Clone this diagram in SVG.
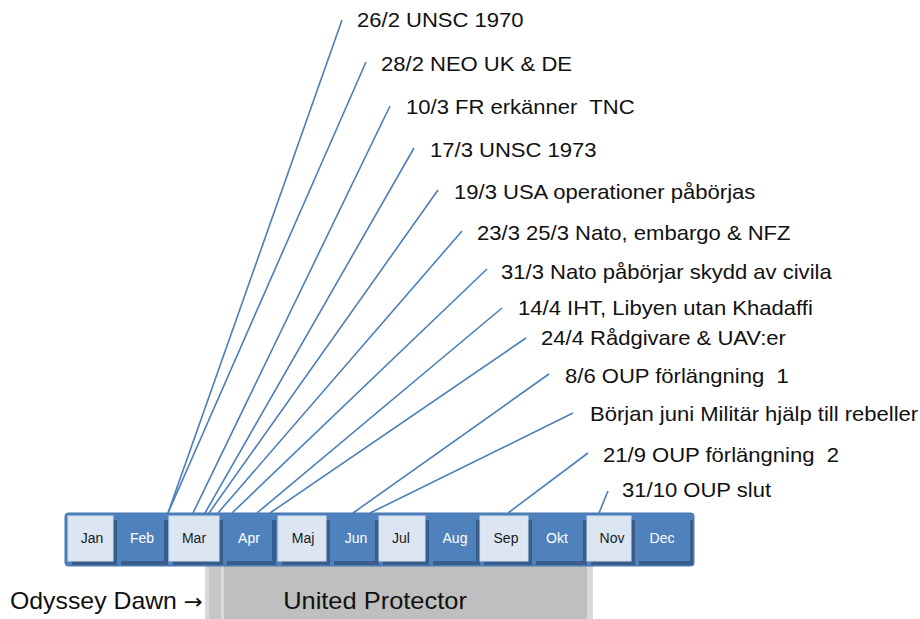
<svg xmlns="http://www.w3.org/2000/svg" width="920" height="619" viewBox="0 0 920 619">
<style>
.ev{font-family:"Liberation Sans",Arial,sans-serif;font-size:21px;fill:#111}
.mo{font-family:"Liberation Sans",Arial,sans-serif;font-size:14px;text-anchor:middle}
.mo.l{fill:#1a1a1a}
.mo.d{fill:#ffffff}
.big{font-family:"Liberation Sans",Arial,sans-serif;fill:#111}
.lc{fill:#dce6f2;stroke:#d0def0;stroke-width:1}
.dc{fill:#4f81bd}
.sh{fill:#385d8a}
.con line{stroke:#4a7ebb;stroke-width:1.6;fill:none}
</style>
<rect width="920" height="619" fill="#ffffff"/>

<g id="operations">
<rect x="205" y="565" width="388" height="54" fill="#d9d9d9"/>
<rect x="209" y="565" width="12" height="54" fill="#c6c6c6"/>
<rect x="224" y="565" width="363" height="54" fill="#bfbfbf"/>
<text class="big" font-size="24" text-anchor="middle" transform="translate(375,609) scale(1.06,1)">United Protector</text>
<text class="big" font-size="23" transform="translate(10,609) scale(1.08,1)">Odyssey Dawn <tspan font-family="'DejaVu Sans',sans-serif" font-size="21">→</tspan></text>
</g>

<g id="timeline">
<rect x="65" y="513" width="629" height="53" rx="3" fill="#4f81bd" stroke="#4876b0" stroke-width="1"/>
<g id="m-jan"><rect class="sh" x="72" y="520" width="45" height="45"/><rect class="lc" x="68" y="516" width="45" height="45"/><text class="mo l" x="92" y="543">Jan</text></g>
<g id="m-feb"><rect class="sh" x="121" y="520" width="47" height="45"/><rect class="dc" x="117" y="516" width="47" height="45"/><text class="mo d" x="142" y="543">Feb</text></g>
<g id="m-mar"><rect class="sh" x="173" y="520" width="50" height="45"/><rect class="lc" x="169" y="516" width="50" height="45"/><text class="mo l" x="194" y="543">Mar</text></g>
<g id="m-apr"><rect class="sh" x="227" y="520" width="49" height="45"/><rect class="dc" x="223" y="516" width="49" height="45"/><text class="mo d" x="249" y="543">Apr</text></g>
<g id="m-maj"><rect class="sh" x="282" y="520" width="48" height="45"/><rect class="lc" x="278" y="516" width="48" height="45"/><text class="mo l" x="303" y="543">Maj</text></g>
<g id="m-jun"><rect class="sh" x="334" y="520" width="45" height="45"/><rect class="dc" x="330" y="516" width="45" height="45"/><text class="mo d" x="356" y="543">Jun</text></g>
<g id="m-jul"><rect class="sh" x="383" y="520" width="46" height="45"/><rect class="lc" x="379" y="516" width="46" height="45"/><text class="mo l" x="401" y="543">Jul</text></g>
<g id="m-aug"><rect class="sh" x="433" y="520" width="47" height="45"/><rect class="dc" x="429" y="516" width="47" height="45"/><text class="mo d" x="455" y="543">Aug</text></g>
<g id="m-sep"><rect class="sh" x="484" y="520" width="48" height="45"/><rect class="lc" x="480" y="516" width="48" height="45"/><text class="mo l" x="506" y="543">Sep</text></g>
<g id="m-okt"><rect class="sh" x="536" y="520" width="51" height="45"/><rect class="dc" x="532" y="516" width="51" height="45"/><text class="mo d" x="557" y="543">Okt</text></g>
<g id="m-nov"><rect class="sh" x="591" y="520" width="44" height="45"/><rect class="lc" x="587" y="516" width="44" height="45"/><text class="mo l" x="612" y="543">Nov</text></g>
<g id="m-dec"><rect class="sh" x="639" y="520" width="54" height="45"/><rect class="dc" x="635" y="516" width="55" height="45"/><text class="mo d" x="662" y="543">Dec</text></g>
</g>

<g id="connectors" class="con">
<line x1="168" y1="513" x2="342" y2="20"/>
<line x1="168" y1="513" x2="366" y2="62"/>
<line x1="193" y1="513" x2="390" y2="106"/>
<line x1="205" y1="513" x2="414" y2="148"/>
<line x1="209" y1="513" x2="438" y2="190"/>
<line x1="218" y1="513" x2="462" y2="231"/>
<line x1="232" y1="513" x2="487" y2="269"/>
<line x1="257" y1="513" x2="502" y2="308"/>
<line x1="270" y1="513" x2="526" y2="338"/>
<line x1="353" y1="513" x2="549" y2="374"/>
<line x1="370" y1="513" x2="573" y2="413"/>
<line x1="508" y1="513" x2="588" y2="453"/>
<line x1="599" y1="513" x2="608" y2="491"/>
</g>

<g id="ev1"><text class="ev" transform="translate(357,27) scale(1.05,1)">26/2 UNSC 1970</text></g>
<g id="ev2"><text class="ev" transform="translate(381,71) scale(1.05,1)">28/2 NEO UK &amp; DE</text></g>
<g id="ev3"><text class="ev" xml:space="preserve" transform="translate(406,114) scale(1.05,1)">10/3 FR erkänner  TNC</text></g>
<g id="ev4"><text class="ev" transform="translate(430,157) scale(1.05,1)">17/3 UNSC 1973</text></g>
<g id="ev5"><text class="ev" transform="translate(454,199) scale(1.05,1)">19/3 USA operationer påbörjas</text></g>
<g id="ev6"><text class="ev" transform="translate(477,240) scale(1.05,1)">23/3 25/3 Nato, embargo &amp; NFZ</text></g>
<g id="ev7"><text class="ev" transform="translate(501,279) scale(1.05,1)">31/3 Nato påbörjar skydd av civila</text></g>
<g id="ev8"><text class="ev" transform="translate(518,315) scale(1.05,1)">14/4 IHT, Libyen utan Khadaffi</text></g>
<g id="ev9"><text class="ev" transform="translate(541,345) scale(1.05,1)">24/4 Rådgivare &amp; UAV:er</text></g>
<g id="ev10"><text class="ev" xml:space="preserve" transform="translate(565,383) scale(1.05,1)">8/6 OUP förlängning  1</text></g>
<g id="ev11"><text class="ev" transform="translate(590,421) scale(1.05,1)">Början juni Militär hjälp till rebeller</text></g>
<g id="ev12"><text class="ev" xml:space="preserve" transform="translate(603,462) scale(1.05,1)">21/9 OUP förlängning  2</text></g>
<g id="ev13"><text class="ev" transform="translate(622,497) scale(1.05,1)">31/10 OUP slut</text></g>
</svg>
